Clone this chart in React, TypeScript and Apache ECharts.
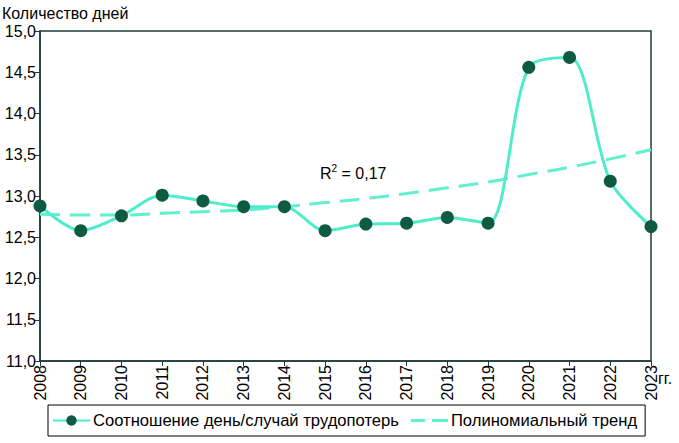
import React, { useEffect, useRef } from "react";
import * as echarts from "echarts";

const years = ["2008","2009","2010","2011","2012","2013","2014","2015","2016","2017","2018","2019","2020","2021","2022","2023"];
const ratio = [12.88, 12.58, 12.76, 13.01, 12.94, 12.87, 12.87, 12.58, 12.66, 12.67, 12.74, 12.67, 14.56, 14.68, 13.18, 12.63];
const trend = [12.78, 12.77, 12.77, 12.79, 12.81, 12.83, 12.87, 12.92, 12.97, 13.03, 13.10, 13.17, 13.26, 13.35, 13.45, 13.56];
const yTicks = { min: 11, max: 15, step: 0.5 };
const seriesNames = ["Соотношение день/случай трудопотерь", "Полиномиальный тренд"];
const yTitle = "Количество дней";
const xUnit = "гг.";
const r2Text = "0,17";

const FONT = "Liberation Sans, Arial, sans-serif";
const LINE = "#4eeccb";
const TREND = "#5ff0d2";
const MARK = "#0f5a43";
const AXIS = "#1d3b38";
const FS = 16;

const dashIcon = "path://M0,0h0.05v0.05h-0.05z M0,5H14V8H0Z M21,5H37V8H21Z M36.95,12.95h0.05v0.05h-0.05z";

export default function App() {
  const ref = useRef<HTMLDivElement>(null);
  useEffect(() => {
    const chart = echarts.init(ref.current!, null, { renderer: "svg" });
    chart.setOption({
      animation: false,
      backgroundColor: "#fff",
      textStyle: { fontFamily: FONT },
      title: {
        text: yTitle,
        left: 2,
        top: 5,
        padding: 0,
        textStyle: { fontFamily: FONT, fontSize: FS, fontWeight: "normal", color: "#000" },
      },
      grid: {
        left: 40, right: 28, top: 31, bottom: 82,
        show: true, borderColor: AXIS, borderWidth: 1.5,
      },
      xAxis: {
        type: "category",
        data: years,
        boundaryGap: false,
        axisLine: { lineStyle: { color: AXIS, width: 1.5 } },
        axisTick: { show: true, length: 5, interval: 0, lineStyle: { color: AXIS } },
        axisLabel: { rotate: 90, interval: 0, color: "#000", fontSize: FS, fontFamily: FONT, margin: 4 },
        splitLine: { show: false },
      },
      yAxis: {
        type: "value",
        min: yTicks.min,
        max: yTicks.max,
        interval: yTicks.step,
        axisLine: { show: true, lineStyle: { color: AXIS, width: 1.5 } },
        axisTick: { show: true, length: 5, lineStyle: { color: AXIS } },
        axisLabel: {
          color: "#000", fontSize: FS, fontFamily: FONT, margin: 4,
          formatter: (v: number) => v.toFixed(1).replace(".", ","),
        },
        splitLine: { show: false },
      },
      legend: {
        left: 48,
        top: 405,
        width: 588,
        padding: [7, 8, 7, 4],
        borderColor: "#000",
        borderWidth: 1,
        itemWidth: 37,
        itemHeight: 13,
        itemGap: 12,
        textStyle: { fontFamily: FONT, fontSize: 16.6, color: "#000", padding: [0, 0, 0, -2] },
        data: [
          { name: seriesNames[0] },
          { name: seriesNames[1], icon: dashIcon, itemStyle: { color: TREND } },
        ],
      },
      series: [
        {
          name: seriesNames[1],
          type: "line",
          data: trend,
          smooth: true,
          showSymbol: false,
          symbol: "none",
          lineStyle: { color: TREND, width: 3, type: [20, 10] },
          itemStyle: { color: TREND },
          z: 1,
        },
        {
          name: seriesNames[0],
          type: "line",
          data: ratio,
          smooth: 0.3,
          symbol: "circle",
          symbolSize: 13,
          lineStyle: { color: LINE, width: 3 },
          itemStyle: { color: MARK, borderWidth: 0 },
          z: 3,
        },
      ],
      graphic: [
        {
          type: "text",
          left: 658,
          top: 370,
          style: { text: xUnit, fontFamily: FONT, fontSize: FS, fill: "#000" },
        },
        {
          type: "text",
          left: 320,
          top: 163,
          style: {
            text: "{r|R}{s|2}{r| = " + r2Text + "}",
            fontFamily: FONT,
            fill: "#000",
            rich: {
              r: { fontFamily: FONT, fontSize: FS, fill: "#000", verticalAlign: "bottom" },
              s: { fontFamily: FONT, fontSize: 10, fill: "#000", verticalAlign: "top", padding: [0, 0, 8, 0] },
            },
          },
        },
      ],
    });
    return () => chart.dispose();
  }, []);
  return <div ref={ref} style={{ width: 679, height: 443, position: "absolute", left: 0, top: 0 }} />;
}
